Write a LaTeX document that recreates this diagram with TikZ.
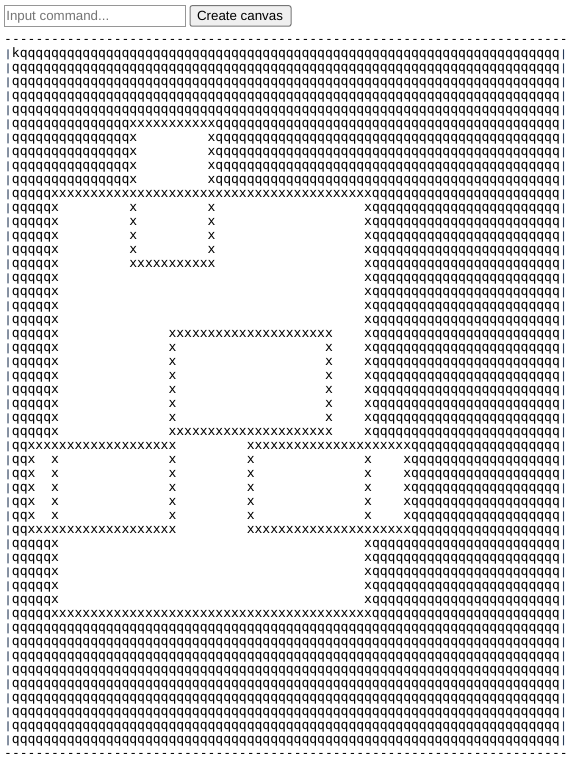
\documentclass[tikz,border=0pt]{standalone}
\usepackage{fontspec}
\setmainfont{Liberation Sans}
\newfontfamily\canvasfont{DejaVu Sans Mono}
\ExplSyntaxOn
\cs_new:Npn \myrep #1#2 { \prg_replicate:nn {#1} {#2} }
\ExplSyntaxOff
\definecolor{boxborder}{RGB}{150,150,150}
\definecolor{btnborder}{RGB}{118,118,118}
\definecolor{btnfill}{RGB}{239,239,239}
\definecolor{placeholder}{RGB}{117,117,117}
\definecolor{barcol}{RGB}{40,60,90}
\tikzset{
  cv/.style={anchor=base west, inner sep=0pt, outer sep=0pt, text=black,
    font=\canvasfont\fontsize{13pt}{14pt}\selectfont},
  barch/.style={anchor=base, inner sep=0pt, outer sep=0pt, text=barcol,
    font=\canvasfont\bfseries\fontsize{10pt}{12pt}\selectfont},
  uitext/.style={inner sep=0pt, outer sep=0pt, font=\fontsize{13.33pt}{15pt}\selectfont},
}
% row patterns (70 cells each)
\newcommand\rowFull{\myrep{70}{q}}
\newcommand\rowA{\myrep{15}{q}\myrep{11}{x}\myrep{44}{q}}
\newcommand\rowB{\myrep{15}{q}x\myrep{9}{~}x\myrep{44}{q}}
\newcommand\rowC{\myrep{5}{q}\myrep{41}{x}\myrep{24}{q}}
\newcommand\rowD{\myrep{5}{q}x\myrep{9}{~}x\myrep{9}{~}x\myrep{19}{~}x\myrep{24}{q}}
\newcommand\rowE{\myrep{5}{q}x\myrep{9}{~}\myrep{11}{x}\myrep{19}{~}x\myrep{24}{q}}
\newcommand\rowF{\myrep{5}{q}x\myrep{39}{~}x\myrep{24}{q}}
\newcommand\rowG{\myrep{5}{q}x\myrep{14}{~}\myrep{21}{x}\myrep{4}{~}x\myrep{24}{q}}
\newcommand\rowH{\myrep{5}{q}x\myrep{14}{~}x\myrep{19}{~}x\myrep{4}{~}x\myrep{24}{q}}
\newcommand\rowI{qq\myrep{19}{x}\myrep{9}{~}\myrep{21}{x}\myrep{19}{q}}
\newcommand\rowJ{qqx~~x\myrep{14}{~}x\myrep{9}{~}x\myrep{14}{~}x\myrep{4}{~}x\myrep{19}{q}}
\newcommand\dashrow{\myrep{72}{-\kern0pt}}
\begin{document}
\begin{tikzpicture}[x=1pt,y=-1pt]
\useasboundingbox[fill=white] (0,0) rectangle (570,762);
% --- controls ---
\node[draw=boxborder, line width=1pt, minimum width=181pt, minimum height=20.5pt, inner sep=0pt, anchor=north west] (input) at (3.7,5.2) {};
\node[uitext, text=placeholder, anchor=base west] (inputtext) at (6.3,20.2) {Input command...};
\node[draw=btnborder, fill=btnfill, line width=1pt, rounded corners=2pt, minimum width=101pt, minimum height=20.5pt, inner sep=0pt, anchor=north west] (button) at (189.5,5.2) {};
\node[uitext, text=black, anchor=base] (buttontext) at (240,20.4) {Create canvas};
% --- dashed borders ---
\node[cv] (topdash) at (4.2,43.8) {\dashrow};
\node[cv] (botdash) at (4.2,757.8) {\dashrow};
% --- side bars ---
\foreach \i in {1,...,50}{
  \node[barch] (lbar\i) at (8.1,{57.8+14*(\i-1)}) {|};
  \node[barch] (rbar\i) at (563.7,{57.8+14*(\i-1)}) {|};
}
% --- canvas rows ---
\node[cv] (r1) at (12,57.8) {k\myrep{69}{q}};
\foreach \i in {2,...,5}{\node[cv] (r\i) at (12,{57.8+14*(\i-1)}) {\rowFull};}
\node[cv] (r6) at (12,{57.8+14*5}) {\rowA};
\foreach \i in {7,...,10}{\node[cv] (r\i) at (12,{57.8+14*(\i-1)}) {\rowB};}
\node[cv] (r11) at (12,{57.8+14*10}) {\rowC};
\foreach \i in {12,...,15}{\node[cv] (r\i) at (12,{57.8+14*(\i-1)}) {\rowD};}
\node[cv] (r16) at (12,{57.8+14*15}) {\rowE};
\foreach \i in {17,...,20}{\node[cv] (r\i) at (12,{57.8+14*(\i-1)}) {\rowF};}
\node[cv] (r21) at (12,{57.8+14*20}) {\rowG};
\foreach \i in {22,...,27}{\node[cv] (r\i) at (12,{57.8+14*(\i-1)}) {\rowH};}
\node[cv] (r28) at (12,{57.8+14*27}) {\rowG};
\node[cv] (r29) at (12,{57.8+14*28}) {\rowI};
\foreach \i in {30,...,34}{\node[cv] (r\i) at (12,{57.8+14*(\i-1)}) {\rowJ};}
\node[cv] (r35) at (12,{57.8+14*34}) {\rowI};
\foreach \i in {36,...,40}{\node[cv] (r\i) at (12,{57.8+14*(\i-1)}) {\rowF};}
\node[cv] (r41) at (12,{57.8+14*40}) {\rowC};
\foreach \i in {42,...,50}{\node[cv] (r\i) at (12,{57.8+14*(\i-1)}) {\rowFull};}
\end{tikzpicture}
\end{document}
